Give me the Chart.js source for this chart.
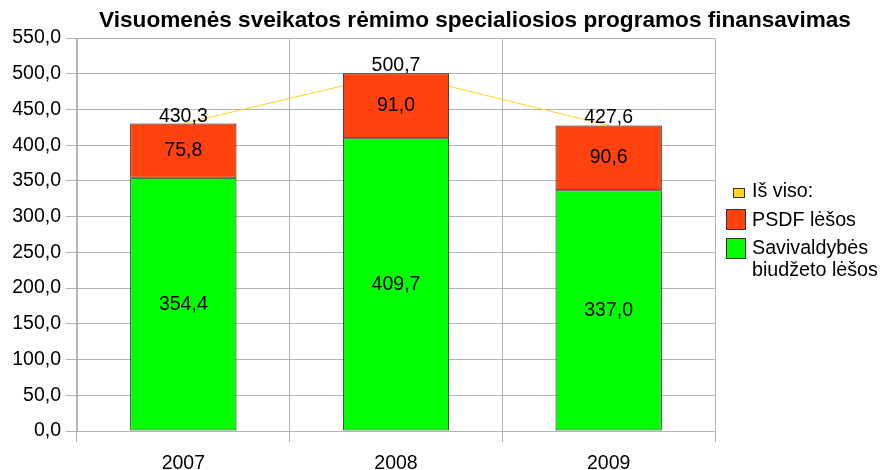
<!DOCTYPE html>
<html>
<head>
<meta charset="utf-8">
<script src="https://cdn.jsdelivr.net/npm/chart.js@4"></script>
<style>
  html, body { margin: 0; padding: 0; background: #fff; }
  #wrap { width: 880px; height: 470px; }
</style>
</head>
<body>
<div id="wrap"><canvas id="myChart" width="880" height="470"></canvas></div>
<script>
// Data
const years = ['2007', '2008', '2009'];
const savivaldybes = [354.4, 409.7, 337.0];
const psdf = [75.8, 91.0, 90.6];
const isViso = [430.3, 500.7, 427.6];
const titleText = 'Visuomenės sveikatos rėmimo specialiosios programos finansavimas';

// Colors
const green = '#00ff00';
const red = '#ff420e';
const yellow = '#ffd320';
const edge = '#1a1a1a';
const font = 'Liberation Sans, Arial, sans-serif';

const fmt = v => v.toFixed(1).replace('.', ',');

// Title, value labels and legend drawn by hand
const decor = {
  id: 'decor',
  afterDatasetsDraw(chart) {
    const c = chart.ctx;
    c.save();
    c.fillStyle = '#000';
    c.textAlign = 'center';
    c.textBaseline = 'middle';

    // title
    c.font = 'bold 22.6px ' + font;
    c.fillText(titleText, 475, 21);

    // segment labels
    c.font = '19.5px ' + font;
    [0, 1].forEach(di => {
      chart.getDatasetMeta(di).data.forEach((bar, i) => {
        const mid = (bar.y + bar.base) / 2;
        c.fillText(fmt(chart.data.datasets[di].data[i]), bar.x, mid);
      });
    });
    // totals
    c.textBaseline = 'alphabetic';
    chart.getDatasetMeta(2).data.forEach((pt, i) => {
      c.fillText(fmt(isViso[i]), pt.x, pt.y - 2);
    });

    // legend
    c.textAlign = 'left';
    c.textBaseline = 'middle';
    c.font = '19.7px ' + font;
    c.strokeStyle = '#333';
    c.lineWidth = 1;
    c.fillStyle = yellow;
    c.fillRect(733.5, 188.5, 11, 9);
    c.strokeRect(733.5, 188.5, 11, 9);
    c.fillStyle = red;
    c.fillRect(726.5, 209.5, 19, 20);
    c.strokeRect(726.5, 209.5, 19, 20);
    c.fillStyle = green;
    c.fillRect(726.5, 238.5, 19, 20);
    c.strokeRect(726.5, 238.5, 19, 20);
    c.fillStyle = '#000';
    c.fillText('Iš viso:', 752, 192);
    c.fillText('PSDF lėšos', 752, 221);
    c.fillText('Savivaldybės', 752, 249);
    c.fillText('biudžeto lėšos', 752, 271);
    c.restore();
  }
};

const ctx = document.getElementById('myChart').getContext('2d');

const myChart = new Chart(ctx, {
  type: 'bar',
  data: {
    labels: years,
    datasets: [
      {
        label: 'Savivaldybės biudžeto lėšos',
        data: savivaldybes,
        backgroundColor: green,
        borderColor: edge,
        borderWidth: 1,
        borderSkipped: false,
        stack: 'a',
        barPercentage: 0.5,
        categoryPercentage: 1
      },
      {
        label: 'PSDF lėšos',
        data: psdf,
        backgroundColor: red,
        borderColor: edge,
        borderWidth: 1,
        borderSkipped: false,
        stack: 'a',
        barPercentage: 0.5,
        categoryPercentage: 1
      },
      {
        type: 'line',
        label: 'Iš viso:',
        data: isViso,
        borderColor: yellow,
        borderWidth: 1,
        pointRadius: 0,
        fill: false,
        stack: 'b',
        order: 5
      }
    ]
  },
  options: {
    responsive: false,
    animation: false,
    layout: { padding: { top: 38, right: 165, left: 0, bottom: 0 } },
    plugins: {
      legend: { display: false },
      title: { display: false },
      tooltip: { enabled: false }
    },
    scales: {
      x: {
        stacked: true,
        offset: true,
        grid: {
          offset: true,
          color: '#b3b3b3',
          tickLength: 11
        },
        border: { color: '#b3b3b3' },
        ticks: {
          color: '#000',
          font: { family: font, size: 19.5 },
          padding: 10
        },
        afterFit: s => { s.height = 39; }
      },
      y: {
        stacked: true,
        min: 0,
        max: 550,
        grid: { color: '#b3b3b3', tickLength: 11 },
        border: { color: '#b3b3b3' },
        ticks: {
          stepSize: 50,
          color: '#000',
          font: { family: font, size: 19.5 },
          padding: 5,
          callback: v => fmt(v)
        },
        afterFit: s => { s.width = 77; }
      }
    }
  },
  plugins: [decor]
});
</script>
</body>
</html>
